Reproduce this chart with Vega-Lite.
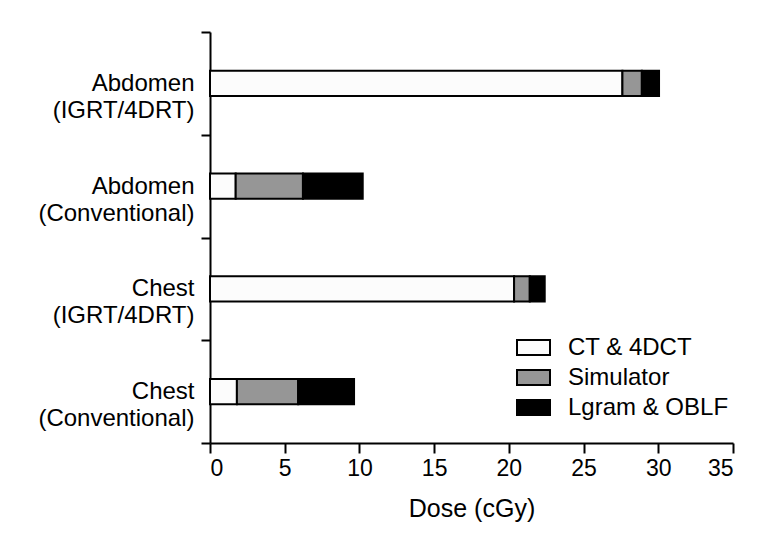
{
  "$schema": "https://vega.github.io/schema/vega-lite/v6.json",
  "width": 523,
  "height": 411,
  "autosize": {"type": "none"},
  "padding": {"left": 210, "top": 32, "right": 44, "bottom": 99},
  "background": "white",
  "config": {
    "font": "Liberation Sans",
    "view": {"stroke": null},
    "axis": {"labelColor": "black", "titleColor": "black", "domainColor": "black", "tickColor": "black", "domainWidth": 2, "tickWidth": 2, "grid": false}
  },
  "data": {
    "values": [
      {"group": "Abdomen\n(IGRT/4DRT)", "source": "CT & 4DCT", "ord": 1, "dose": 27.6},
      {"group": "Abdomen\n(IGRT/4DRT)", "source": "Simulator", "ord": 2, "dose": 1.3},
      {"group": "Abdomen\n(IGRT/4DRT)", "source": "Lgram & OBLF", "ord": 3, "dose": 1.15},
      {"group": "Abdomen\n(Conventional)", "source": "CT & 4DCT", "ord": 1, "dose": 1.72},
      {"group": "Abdomen\n(Conventional)", "source": "Simulator", "ord": 2, "dose": 4.5},
      {"group": "Abdomen\n(Conventional)", "source": "Lgram & OBLF", "ord": 3, "dose": 4.0},
      {"group": "Chest\n(IGRT/4DRT)", "source": "CT & 4DCT", "ord": 1, "dose": 20.35},
      {"group": "Chest\n(IGRT/4DRT)", "source": "Simulator", "ord": 2, "dose": 1.05},
      {"group": "Chest\n(IGRT/4DRT)", "source": "Lgram & OBLF", "ord": 3, "dose": 1.0},
      {"group": "Chest\n(Conventional)", "source": "CT & 4DCT", "ord": 1, "dose": 1.8},
      {"group": "Chest\n(Conventional)", "source": "Simulator", "ord": 2, "dose": 4.1},
      {"group": "Chest\n(Conventional)", "source": "Lgram & OBLF", "ord": 3, "dose": 3.74}
    ]
  },
  "mark": {"type": "bar", "stroke": "black", "strokeWidth": 2, "height": {"band": 0.245}},
  "encoding": {
    "y": {
      "field": "group",
      "type": "nominal",
      "sort": ["Abdomen\n(IGRT/4DRT)", "Abdomen\n(Conventional)", "Chest\n(IGRT/4DRT)", "Chest\n(Conventional)"],
      "scale": {"paddingInner": 0, "paddingOuter": 0},
      "axis": {
        "title": null,
        "tickBand": "extent",
        "tickSize": 9,
        "labelPadding": 7,
        "labelFontSize": 24,
        "labelLineHeight": 27,
        "labelLimit": 0,
        "labelExpr": "split(datum.label, '\\n')"
      }
    },
    "x": {
      "field": "dose",
      "type": "quantitative",
      "stack": "zero",
      "scale": {"domain": [0, 35], "nice": false},
      "axis": {
        "title": "Dose (cGy)",
        "values": [0, 5, 10, 15, 20, 25, 30, 35],
        "tickSize": 10,
        "labelFontSize": 23,
        "labelPadding": 4,
        "titleFontSize": 25,
        "titleFontWeight": "normal",
        "titlePadding": 16
      }
    },
    "color": {
      "field": "source",
      "type": "nominal",
      "scale": {"domain": ["CT & 4DCT", "Simulator", "Lgram & OBLF"], "range": ["#fcfcfc", "#969696", "#000000"]},
      "legend": {
        "title": null,
        "orient": "none",
        "legendX": 306,
        "legendY": 298,
        "symbolType": "M-1,-0.45L1,-0.45L1,0.45L-1,0.45Z",
        "symbolSize": 1089,
        "symbolStrokeColor": "black",
        "symbolStrokeWidth": 2,
        "symbolOpacity": 1,
        "labelFontSize": 24,
        "labelColor": "black",
        "labelOffset": 17,
        "labelLimit": 0,
        "rowPadding": -7
      }
    },
    "order": {"field": "ord", "type": "quantitative"}
  }
}
